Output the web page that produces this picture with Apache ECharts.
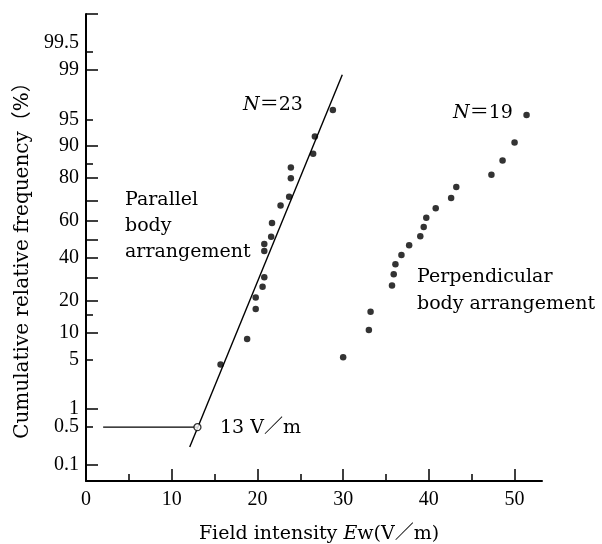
<!DOCTYPE html>
<html><head><meta charset="utf-8">
<script src="https://cdn.jsdelivr.net/npm/echarts@6/dist/echarts.min.js"></script>
<style>html,body{margin:0;padding:0;background:#fff}#c{width:602px;height:544px}</style>
</head><body><div id="c"></div>
<script>
// ---- data (field intensity V/m, cumulative relative frequency %) ----
const parallelE = [28.8, 26.7, 26.5, 23.9, 23.9, 23.7, 22.7, 21.7, 21.6, 20.8, 20.8, 20.8, 20.6, 19.8, 19.8, 18.8, 15.7];
const parallelP = [96.2, 92.1, 88.0, 83.8, 79.9, 72.0, 67.9, 58.9, 51.4, 47.4, 43.7, 30.1, 25.8, 21.3, 17.0, 8.6, 4.3];
const perpE = [51.4, 50.0, 48.6, 47.3, 43.2, 42.6, 40.8, 39.7, 39.4, 39.0, 37.7, 36.8, 36.1, 35.9, 35.7, 33.2, 33.0, 30.0];
const perpP = [95.6, 90.8, 86.0, 81.2, 76.4, 71.5, 66.5, 61.6, 56.7, 51.7, 46.8, 41.5, 36.6, 31.6, 26.3, 16.0, 10.7, 5.3];
const fitE = [12.1, 29.9];
const fitP = [0.22, 98.8];
const thresholdE = [2, 13];
const thresholdP = [0.5, 0.5];
const yRangePct = [0.046, 99.9];
const yLabelPct = [0.1, 0.5, 1, 5, 10, 20, 40, 60, 80, 90, 95, 99, 99.5];
const yLabelText = ['0.1', '0.5', '1', '5', '10', '20', '40', '60', '80', '90', '95', '99', '99.5'];
const yMajorTickPct = [0.1, 1, 10, 20, 30, 40, 50, 60, 70, 80, 90, 99];
const yMinorTickPct = [0.5, 5, 15, 85, 95, 99.5];
const xLabels = [0, 10, 20, 30, 40, 50];
const xMajorTicks = [10, 20, 30, 40, 50];
const xMinorTicks = [5, 15, 25, 35, 45];
const xRange = [0, 53.2];

// inverse normal CDF (probability-paper scale)
function probit(p){
  const a=[-3.969683028665376e+01,2.209460984245205e+02,-2.759285104469687e+02,1.383577518672690e+02,-3.066479806614716e+01,2.506628277459239e+00];
  const b=[-5.447609879822406e+01,1.615858368580409e+02,-1.556989798598866e+02,6.680131188771972e+01,-1.328068155288572e+01];
  const c=[-7.784894002430293e-03,-3.223964580411365e-01,-2.400758277161838e+00,-2.549732539343734e+00,4.374664141464968e+00,2.938163982698783e+00];
  const d=[7.784695709041462e-03,3.224671290700398e-01,2.445134137142996e+00,3.754408661907416e+00];
  const pl=0.02425, ph=1-pl; let q, r;
  if (p < pl) { q=Math.sqrt(-2*Math.log(p)); return (((((c[0]*q+c[1])*q+c[2])*q+c[3])*q+c[4])*q+c[5])/((((d[0]*q+d[1])*q+d[2])*q+d[3])*q+1); }
  if (p <= ph) { q=p-0.5; r=q*q; return (((((a[0]*r+a[1])*r+a[2])*r+a[3])*r+a[4])*r+a[5])*q/(((((b[0]*r+b[1])*r+b[2])*r+b[3])*r+b[4])*r+1); }
  q=Math.sqrt(-2*Math.log(1-p)); return -(((((c[0]*q+c[1])*q+c[2])*q+c[3])*q+c[4])*q+c[5])/((((d[0]*q+d[1])*q+d[2])*q+d[3])*q+1);
}
const z = pct => probit(pct / 100);
const yMin = z(yRangePct[0]), yMax = z(yRangePct[1]);
const pairs = (xs, ps) => xs.map((x, i) => [x, z(ps[i])]);

const SERIF = "'DejaVu Serif', 'Noto Sans CJK JP', serif";
const NUM = "'Liberation Serif', 'Noto Sans CJK JP', serif";
const ink = '#000';

const chart = echarts.init(document.getElementById('c'), null, {renderer: 'canvas'});
chart.setOption({
  animation: false,
  backgroundColor: '#fff',
  grid: {left: 86, right: 60, top: 14, bottom: 63, outerBoundsMode: 'none', containLabel: false},
  xAxis: [{
    type: 'value', min: xRange[0], max: xRange[1], position: 'bottom',
    splitLine: {show: false},
    axisLine: {onZero: false, lineStyle: {color: ink, width: 2}},
    axisTick: {inside: true, length: 12, customValues: xMajorTicks, lineStyle: {color: ink, width: 1.5}},
    axisLabel: {customValues: xLabels, color: ink, fontFamily: NUM, fontSize: 20, margin: 9},
    name: 'Field intensity {i|E}w(V／m)', nameLocation: 'middle', nameGap: 44,
    nameTextStyle: {color: ink, fontFamily: SERIF, fontSize: 19, padding: [0, 0, 0, 10],
      rich: {i: {fontStyle: 'italic', fontFamily: SERIF, fontSize: 19, color: ink}}}
  }, {
    type: 'value', min: xRange[0], max: xRange[1], gridIndex: 0, position: 'bottom', offset: 0,
    splitLine: {show: false}, axisLine: {show: false, onZero: false}, axisLabel: {show: false},
    axisTick: {inside: true, length: 7, customValues: xMinorTicks, lineStyle: {color: ink, width: 1.5}}
  }],
  yAxis: [{
    type: 'value', min: yMin, max: yMax, position: 'left',
    splitLine: {show: false},
    axisLine: {onZero: false, lineStyle: {color: ink, width: 2}},
    axisTick: {inside: true, length: 12, customValues: yMajorTickPct.map(z).concat([yMax]), lineStyle: {color: ink, width: 1.5}},
    axisLabel: {customValues: yLabelPct.map(z), hideOverlap: false, color: ink, fontFamily: NUM, fontSize: 20, margin: 7,
      rich: {up: {fontFamily: NUM, fontSize: 20, color: ink, padding: [0, 0, 18, 0]}},
      formatter: v => { let best = 0, bd = 1e9; yLabelPct.forEach((p, i) => { const dd = Math.abs(z(p) - v); if (dd < bd) { bd = dd; best = i; } });
        return yLabelPct[best] === 99.5 ? '{up|' + yLabelText[best] + '}' : yLabelText[best]; }},
    name: 'Cumulative relative frequency（%）', nameLocation: 'middle', nameGap: 52,
    nameTextStyle: {color: ink, fontFamily: SERIF, fontSize: 20, padding: [0, 16, 0, 0]}
  }, {
    type: 'value', min: yMin, max: yMax, position: 'left', offset: 0,
    splitLine: {show: false}, axisLine: {show: false, onZero: false}, axisLabel: {show: false},
    axisTick: {inside: true, length: 7, customValues: yMinorTickPct.map(z), lineStyle: {color: ink, width: 1.5}}
  }],
  series: [
    {type: 'line', data: pairs(fitE, fitP), symbol: 'none', lineStyle: {color: ink, width: 1.4}, silent: true},
    {type: 'line', data: pairs(thresholdE, thresholdP), symbol: 'none', lineStyle: {color: ink, width: 1.2}, silent: true},
    {type: 'scatter', data: pairs(parallelE, parallelP), symbolSize: 6.5, itemStyle: {color: ink}, silent: true},
    {type: 'scatter', data: pairs(perpE, perpP), symbolSize: 6.5, itemStyle: {color: ink}, silent: true},
    {type: 'scatter', data: [[thresholdE[1], z(thresholdP[1])]], symbolSize: 7, z: 5,
      itemStyle: {color: '#fff', borderColor: ink, borderWidth: 1.3}, silent: true}
  ],
  graphic: [
    {type: 'text', x: 243, y: 105, style: {text: '{i|N}＝23', fill: ink, font: '19px ' + SERIF, verticalAlign: 'middle',
      rich: {i: {fontStyle: 'italic', fontFamily: SERIF, fontSize: 19, color: ink}}}},
    {type: 'text', x: 453, y: 113, style: {text: '{i|N}＝19', fill: ink, font: '19px ' + SERIF, verticalAlign: 'middle',
      rich: {i: {fontStyle: 'italic', fontFamily: SERIF, fontSize: 19, color: ink}}}},
    {type: 'text', x: 125, y: 226, style: {text: 'Parallel\nbody\narrangement', fill: ink, font: '19px ' + SERIF, lineHeight: 26, verticalAlign: 'middle'}},
    {type: 'text', x: 417, y: 291, style: {text: 'Perpendicular\nbody arrangement', fill: ink, font: '19px ' + SERIF, lineHeight: 27, verticalAlign: 'middle'}},
    {type: 'text', x: 220, y: 428, style: {text: '13 V／m', fill: ink, font: '19px ' + SERIF, verticalAlign: 'middle'}}
  ]
});
</script></body></html>
